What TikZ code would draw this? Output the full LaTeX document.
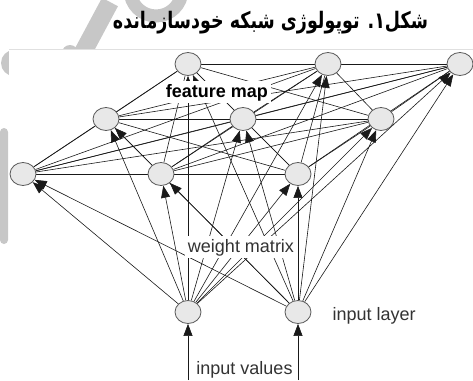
\documentclass[tikz,border=0pt]{standalone}
\usepackage{fontspec}
\setmainfont{Liberation Sans}
\newfontfamily\arabicfont[Script=Arabic]{DejaVu Sans}
\TeXXeTstate=1
\usetikzlibrary{arrows.meta,shapes.geometric}
\pgfdeclarelayer{back}
\pgfdeclarelayer{edges}
\pgfsetlayers{back,edges,main}

\begin{document}
\begin{tikzpicture}[x=1pt,y=-1pt,
  unit/.style={ellipse, draw=black!65, line width=0.8pt, fill=black!9,
    minimum width=26pt, minimum height=23pt, inner sep=0pt},
  wm/.style={black!22},
  link/.style={draw=black!90, line width=0.6pt},
  feed/.style={link, -{Triangle[length=12pt,width=9pt]}},
  txt/.style={font=\fontsize{18}{20}\selectfont, text=black!80, inner sep=2.5pt},
  lbl/.style={txt, fill=white}]
\useasboundingbox (0,0) rectangle (473,380);

% self-organizing map units: back, middle and front rows
\node[unit] (u1) at (188,64) {};
\node[unit] (u2) at (328,64) {};
\node[unit] (u3) at (460,64) {};
\node[unit] (u4) at (106,119) {};
\node[unit] (u5) at (243,119) {};
\node[unit] (u6) at (381,119) {};
\node[unit] (u7) at (23,174) {};
\node[unit] (u8) at (161,174) {};
\node[unit] (u9) at (298,174) {};
% input units
\node[unit] (in1) at (188,312) {};
\node[unit] (in2) at (298,312) {};
\coordinate (s1) at (188,380);
\coordinate (s2) at (298,380);

% labels
\node[lbl, font=\bfseries\fontsize{18}{20}\selectfont, text=black, anchor=base] (fm) at (217,97) {feature map};
\node[lbl, anchor=base] (wmx) at (241,252) {weight matrix};
\node[txt, anchor=base west] (il) at (330,320) {input layer};
\node[txt, anchor=base] (iv) at (244.5,374) {input values};

% title
\node[anchor=base, inner sep=0pt] (title) at (270.5,28)
  {\scalebox{1}[1.3]{\resizebox{315pt}{!}{\arabicfont\bfseries\fontsize{20}{24}\selectfont\beginR شکل۱. توپولوژی شبکه خودسازمانده\endR}}};

\begin{pgfonlayer}{back}
  % faint logo strokes behind the figure
  \fill[wm] (14,63) circle[radius=13pt];
  \fill[wm] (70,53) circle[radius=8pt];
  \draw[wm, line width=18pt] (80,58) -- (110,2);
  \draw[wm, line width=13pt] (156,-10) circle[radius=26pt];
  \fill[wm, rounded corners=4pt] (0,128) rectangle (8,244);
  % white panel of the figure
  \fill[white] (9,49) rectangle (474,381);
  \draw[black!12, line width=0.6pt] (9,49) -- (474,49);
\end{pgfonlayer}

\begin{pgfonlayer}{edges}
  % lateral connections between all map units
  \foreach \i in {1,...,8} {
    \pgfmathtruncatemacro\nxt{\i+1}
    \foreach \j in {\nxt,...,9} \draw[link] (u\i) -- (u\j);
  }
  % weights from each input to every map unit
  \foreach \k in {1,2}
    \foreach \j in {1,...,9} \draw[feed] (in\k) -- (u\j);
  % input values
  \draw[feed] (s1) -- (in1);
  \draw[feed] (s2) -- (in2);
\end{pgfonlayer}
\end{tikzpicture}
\end{document}
